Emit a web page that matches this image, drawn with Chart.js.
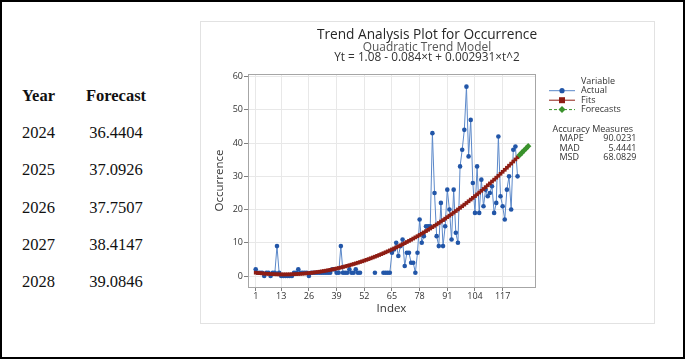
<!DOCTYPE html>
<html><head><meta charset="utf-8">
<script src="https://cdn.jsdelivr.net/npm/chart.js@4.4.1/dist/chart.umd.min.js"></script>
<style>
html,body{margin:0;padding:0;background:#fff;width:685px;height:359px;overflow:hidden;}
#frame{position:absolute;left:0;top:0;width:685px;height:359px;box-sizing:border-box;border:2px solid #000;}
#panel{position:absolute;left:200px;top:21px;width:455px;height:303px;box-sizing:border-box;border:1px solid #e2e2e2;}
.cell{position:absolute;font-family:"Liberation Serif","Times New Roman",serif;font-size:16.5px;line-height:20px;color:#111;white-space:nowrap;}
.hd{font-weight:bold;}
canvas{position:absolute;left:0;top:0;}
</style></head><body>
<div id="frame"></div><div id="panel"></div>
<div id="tbl"></div>
<canvas id="c" width="685" height="359"></canvas>
<script>
// ---- data ----
const indexTicks = [1, 13, 26, 39, 52, 65, 78, 91, 104, 117];
const occurrenceTicks = [0, 10, 20, 30, 40, 50, 60];
const actual = [
  2, 1, 1, 1, 0, 1, 1, 0, 1, 1,
  9, 1, 0, 0, 0, 0, 0, 0, 1, 1,
  2, 1, 1, 1, 1, 0, 1, 1, 1, 1,
  1, 1, 1, 1, 1, 1, 2, 2, 1, 1,
  9, 1, 1, 1, 2, 1, 1, 2, 1, 1,
  null, null, null, null, null, null, 1, null, null, null,
  1, 1, 1, 1, 7, 8, 10, 6, 9, 11,
  3, 7, 7, 4, 4, 1, 7, 17, 10, 12,
  15, 15, 15, 43, 25, 12, 9, 22, 9, 15,
  26, 20, 11, 26, 13, 10, 33, 38, 44, 57,
  36, 47, 28, 19, 33, 19, 29, 21, 26, 24,
  25, 27, 19, 22, 42, 24, 21, 17, 26, 30,
  20, 38, 39, 30
];
const fits = [
  1.00, 0.92, 0.85, 0.79, 0.73, 0.68, 0.64, 0.60, 0.56, 0.53,
  0.51, 0.49, 0.48, 0.48, 0.48, 0.49, 0.50, 0.52, 0.54, 0.57,
  0.61, 0.65, 0.70, 0.75, 0.81, 0.88, 0.95, 1.03, 1.11, 1.20,
  1.29, 1.39, 1.50, 1.61, 1.73, 1.85, 1.98, 2.12, 2.26, 2.41,
  2.56, 2.72, 2.89, 3.06, 3.24, 3.42, 3.61, 3.80, 4.00, 4.21,
  4.42, 4.64, 4.86, 5.09, 5.33, 5.57, 5.81, 6.07, 6.33, 6.59,
  6.86, 7.14, 7.42, 7.71, 8.00, 8.30, 8.61, 8.92, 9.24, 9.56,
  9.89, 10.23, 10.57, 10.91, 11.27, 11.63, 11.99, 12.36, 12.74, 13.12,
  13.51, 13.90, 14.30, 14.71, 15.12, 15.53, 15.96, 16.39, 16.82, 17.26,
  17.71, 18.16, 18.62, 19.08, 19.55, 20.03, 20.51, 21.00, 21.49, 21.99,
  22.50, 23.01, 23.52, 24.05, 24.57, 25.11, 25.65, 26.20, 26.75, 27.31,
  27.87, 28.44, 29.01, 29.60, 30.18, 30.78, 31.37, 31.98, 32.59, 33.21,
  33.83, 34.46, 35.09, 35.73
];
const forecastYears = [2024, 2025, 2026, 2027, 2028];
const forecasts = [36.4404, 37.0926, 37.7507, 38.4147, 39.0846];
const measureNames = ['MAPE', 'MAD', 'MSD'];
const measureValues = ['90.0231', '5.4441', '68.0829'];
const seriesNames = ['Actual', 'Fits', 'Forecasts'];

// ---- table ----
const tbl = document.getElementById('tbl');
function cell(txt, left, top, cls, center) {
  const d = document.createElement('div');
  d.className = 'cell' + (cls ? ' ' + cls : '');
  d.textContent = txt;
  d.style.top = top + 'px';
  if (center) { d.style.left = (left - 50) + 'px'; d.style.width = '100px'; d.style.textAlign = 'center'; }
  else d.style.left = left + 'px';
  tbl.appendChild(d);
}
cell('Year', 22, 86, 'hd');
cell('Forecast', 116, 86, 'hd', true);
forecastYears.forEach((y, i) => {
  cell(String(y), 22, 123 + i * 37.3);
  cell(forecasts[i].toFixed(4), 116, 123 + i * 37.3, '', true);
});

// ---- chart ----
const FONT = '"Open Sans","Noto Sans",sans-serif';
const C_ACT_LINE = '#5b88c9', C_ACT_PT = '#2256a8';
const C_FIT = '#8e1d14', C_FC = '#3a922c';
const nAct = actual.length;

const decor = {
  id: 'decor',
  afterDatasetsDraw(chart) {
    const ctx = chart.ctx, a = chart.chartArea;
    ctx.save();
    ctx.strokeStyle = '#a6a6a6'; ctx.lineWidth = 1;
    ctx.strokeRect(Math.round(a.left) + 0.5, Math.round(a.top) + 0.5, Math.round(a.right - a.left), Math.round(a.bottom - a.top));
    ctx.restore();
  },
  afterDraw(chart) {
    const ctx = chart.ctx;
    ctx.save();
    ctx.textBaseline = 'middle';
    ctx.textAlign = 'center';
    ctx.fillStyle = '#262626';
    ctx.font = '13.7px ' + FONT;
    ctx.fillText('Trend Analysis Plot for Occurrence', 427, 35.5);
    ctx.fillStyle = '#555';
    ctx.font = '11.9px ' + FONT;
    ctx.fillText('Quadratic Trend Model', 427, 47.3);
    ctx.fillStyle = '#333';
    ctx.font = '11.8px ' + FONT;
    ctx.fillText('Yt = 1.08 - 0.084\u00d7t + 0.002931\u00d7t^2', 427, 57.8);
    // legend
    ctx.font = '9px ' + FONT;
    ctx.textAlign = 'left';
    ctx.fillText('Variable', 581, 81);
    const ys = [90.7, 100.2, 109.6];
    chart.data.datasets.forEach((ds, i) => {
      const y = ys[i];
      ctx.strokeStyle = ds.borderColor; ctx.lineWidth = 1;
      ctx.setLineDash(ds.borderDash || []);
      ctx.beginPath(); ctx.moveTo(549, y); ctx.lineTo(575, y); ctx.stroke();
      ctx.setLineDash([]);
      ctx.fillStyle = ds.pointBackgroundColor;
      ctx.beginPath();
      if (ds.pointStyle === 'rect') ctx.rect(559, y - 3, 6, 6);
      else if (ds.pointStyle === 'rectRot') { ctx.moveTo(562, y - 3.5); ctx.lineTo(565.5, y); ctx.lineTo(562, y + 3.5); ctx.lineTo(558.5, y); ctx.closePath(); }
      else ctx.arc(562, y, 2.6, 0, Math.PI * 2);
      ctx.fill();
      ctx.fillStyle = '#333';
      ctx.fillText(ds.label, 581, y);
    });
    ctx.fillText('Accuracy Measures', 552.5, 129);
    measureNames.forEach((m, i) => {
      const y = 138.7 + i * 9.3;
      ctx.textAlign = 'left'; ctx.fillText(m, 559.5, y);
      ctx.textAlign = 'right'; ctx.fillText(measureValues[i], 636.5, y);
    });
    ctx.restore();
  }
};

new Chart(document.getElementById('c'), {
  type: 'line',
  data: {
    datasets: [
      { label: seriesNames[0], data: actual.map((v, i) => ({ x: i + 1, y: v })),
        borderColor: C_ACT_LINE, borderWidth: 1, pointRadius: 2.3, pointBorderWidth: 0,
        pointBackgroundColor: C_ACT_PT, spanGaps: false, order: 2 },
      { label: seriesNames[1], data: fits.map((v, i) => ({ x: i + 1, y: v })),
        borderColor: C_FIT, borderWidth: 2, pointStyle: 'rect', pointRadius: 2.6, pointBorderWidth: 0,
        pointBackgroundColor: C_FIT, order: 1 },
      { label: seriesNames[2], data: forecasts.map((v, i) => ({ x: nAct + 1 + i, y: v })),
        borderColor: C_FC, borderWidth: 1.5, borderDash: [3, 2], pointStyle: 'rectRot', pointRadius: 3.2, pointBorderWidth: 0,
        pointBackgroundColor: C_FC, order: 0 }
    ]
  },
  options: {
    responsive: false, animation: false, devicePixelRatio: 1,
    layout: { padding: { left: 200, right: 150, top: 74, bottom: 32 } },
    plugins: { legend: { display: false }, tooltip: { enabled: false }, title: { display: false } },
    scales: {
      x: {
        type: 'linear', min: -2.62, max: 132.2,
        afterBuildTicks: s => { s.ticks = indexTicks.map(v => ({ value: v })); },
        afterFit: s => { s.height = 40; },
        ticks: { autoSkip: false, maxRotation: 0, padding: 0, color: '#333', font: { family: FONT, size: 9 } },
        grid: { color: '#e8e8e8', tickColor: '#7f7f7f', tickLength: 4, drawTicks: true },
        border: { display: false },
        title: { display: true, text: 'Index', color: '#333', font: { family: FONT, size: 11.5 }, padding: { top: 0, bottom: 11 } }
      },
      y: {
        type: 'linear', min: -3.31, max: 60.81,
        afterBuildTicks: s => { s.ticks = occurrenceTicks.map(v => ({ value: v })); },
        afterFit: s => { s.width = 48; },
        ticks: { padding: 1, color: '#333', font: { family: FONT, size: 9 } },
        grid: { color: '#e8e8e8', tickColor: '#7f7f7f', tickLength: 4, drawTicks: true },
        border: { display: false },
        title: { display: true, text: 'Occurrence', color: '#333', font: { family: FONT, size: 11.5 }, padding: { top: 13, bottom: 0 } }
      }
    }
  },
  plugins: [decor]
});
</script>
</body></html>
